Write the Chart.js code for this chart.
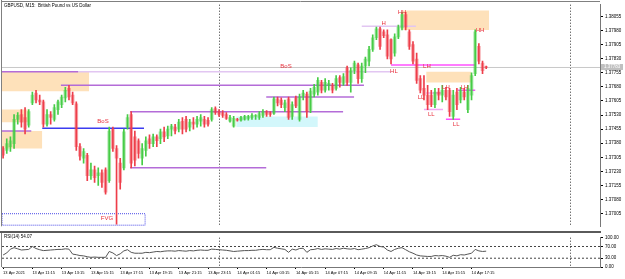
<!DOCTYPE html>
<html>
<head>
<meta charset="utf-8">
<script src="https://cdn.jsdelivr.net/npm/chart.js@4.4.1/dist/chart.umd.min.js"></script>
<style>
  html, body { margin: 0; padding: 0; background: #fff; }
  #wrap { position: relative; width: 625px; height: 279px; overflow: hidden; }
  canvas { position: absolute; left: 0; display: block; }
  #main { top: 0; }
  #rsi { top: 233px; }
  .sep { position: absolute; left: 0; top: 231px; width: 601px; height: 2px; background: #5a5a5a; }
</style>
</head>
<body>
<div id="wrap">
  <canvas id="main" width="625" height="231"></canvas>
  <div class="sep"></div>
  <canvas id="rsi" width="625" height="46"></canvas>
</div>
<script>
// GBPUSD M15, 13 Apr 09:15 .. 14 Apr 17:15
const opens = [
  1.37352,1.37342,1.37362,1.37378,1.37507,1.37533,1.37517,1.37476,1.37595,1.37647,
  1.37610,1.37600,1.37481,1.37533,1.37507,1.37559,1.37585,1.37621,1.37672,1.37636,
  1.37590,1.37362,1.37300,1.37316,1.37207,1.37238,1.37207,1.37223,1.37238,1.37181,
  1.37455,1.37352,1.37274,1.37249,1.37466,1.37533,1.37414,1.37393,1.37300,1.37342,
  1.37404,1.37378,1.37414,1.37404,1.37440,1.37419,1.37455,1.37466,1.37455,1.37497,
  1.37507,1.37466,1.37492,1.37481,1.37497,1.37507,1.37502,1.37507,1.37564,1.37548,
  1.37543,1.37533,1.37497,1.37471,1.37507,1.37502,1.37507,1.37512,1.37517,1.37523,
  1.37517,1.37528,1.37548,1.37543,1.37538,1.37616,1.37610,1.37569,1.37616,1.37523,
  1.37621,1.37507,1.37631,1.37641,1.37554,1.37641,1.37652,1.37704,1.37662,1.37688,
  1.37688,1.37672,1.37729,1.37698,1.37781,1.37704,1.37766,1.37797,1.37724,1.37791,
  1.37817,1.37879,1.37941,1.37988,1.37972,1.37957,1.37931,1.37859,1.37946,1.37993,
  1.38065,1.37972,1.37905,1.37828,1.37724,1.37672,1.37636,1.37636,1.37585,1.37652,
  1.37636,1.37662,1.37662,1.37523,1.37652,1.37610,1.37652,1.37559,1.37636,1.37750,
  1.37895,1.37807,1.37786
];
const highs = [
  1.37362,1.37404,1.37414,1.37533,1.37543,1.37559,1.37569,1.37559,1.37652,1.37662,
  1.37636,1.37610,1.37559,1.37548,1.37585,1.37610,1.37636,1.37678,1.37688,1.37652,
  1.37600,1.37378,1.37352,1.37326,1.37274,1.37259,1.37249,1.37238,1.37249,1.37466,
  1.37466,1.37367,1.37300,1.37455,1.37533,1.37548,1.37445,1.37404,1.37378,1.37414,
  1.37424,1.37429,1.37424,1.37455,1.37466,1.37471,1.37481,1.37481,1.37507,1.37517,
  1.37523,1.37507,1.37517,1.37523,1.37533,1.37523,1.37517,1.37569,1.37574,1.37559,
  1.37554,1.37543,1.37528,1.37523,1.37512,1.37523,1.37528,1.37528,1.37538,1.37533,
  1.37548,1.37559,1.37554,1.37548,1.37626,1.37626,1.37621,1.37610,1.37626,1.37600,
  1.37631,1.37641,1.37662,1.37652,1.37672,1.37693,1.37729,1.37714,1.37724,1.37714,
  1.37698,1.37740,1.37740,1.37750,1.37791,1.37781,1.37817,1.37807,1.37807,1.37838,
  1.37895,1.37957,1.37998,1.37998,1.37983,1.37983,1.37936,1.37962,1.38009,1.38076,
  1.38076,1.37983,1.37921,1.37859,1.37740,1.37740,1.37688,1.37662,1.37672,1.37672,
  1.37688,1.37678,1.37672,1.37662,1.37672,1.37678,1.37672,1.37688,1.37755,1.37983,
  1.37910,1.37817,1.37791
];
const lows = [
  1.37300,1.37326,1.37336,1.37352,1.37481,1.37466,1.37429,1.37466,1.37585,1.37595,
  1.37585,1.37466,1.37471,1.37481,1.37497,1.37533,1.37569,1.37600,1.37610,1.37585,
  1.37342,1.37290,1.37274,1.37181,1.37187,1.37171,1.37155,1.37145,1.37109,1.37171,
  1.37336,1.36949,1.37135,1.37238,1.37455,1.37249,1.37259,1.37300,1.37264,1.37311,
  1.37352,1.37362,1.37362,1.37378,1.37388,1.37404,1.37419,1.37429,1.37440,1.37429,
  1.37440,1.37445,1.37455,1.37466,1.37471,1.37466,1.37471,1.37497,1.37533,1.37523,
  1.37517,1.37507,1.37492,1.37466,1.37497,1.37497,1.37502,1.37502,1.37507,1.37507,
  1.37507,1.37517,1.37523,1.37523,1.37533,1.37579,1.37569,1.37548,1.37507,1.37507,
  1.37569,1.37497,1.37610,1.37517,1.37543,1.37626,1.37636,1.37647,1.37652,1.37662,
  1.37647,1.37662,1.37678,1.37688,1.37688,1.37652,1.37750,1.37698,1.37704,1.37755,
  1.37791,1.37869,1.37931,1.37879,1.37941,1.37828,1.37802,1.37843,1.37936,1.37983,
  1.37983,1.37879,1.37802,1.37698,1.37647,1.37610,1.37559,1.37574,1.37569,1.37610,
  1.37600,1.37610,1.37523,1.37507,1.37559,1.37595,1.37610,1.37543,1.37610,1.37740,
  1.37802,1.37750,1.37776
];
const closes = [
  1.37316,1.37378,1.37393,1.37507,1.37528,1.37492,1.37455,1.37548,1.37636,1.37610,
  1.37600,1.37481,1.37533,1.37517,1.37569,1.37600,1.37626,1.37662,1.37626,1.37595,
  1.37362,1.37311,1.37336,1.37207,1.37238,1.37197,1.37223,1.37171,1.37119,1.37445,
  1.37352,1.37300,1.37171,1.37440,1.37517,1.37274,1.37290,1.37326,1.37352,1.37393,
  1.37378,1.37414,1.37393,1.37440,1.37414,1.37455,1.37471,1.37445,1.37492,1.37455,
  1.37455,1.37492,1.37481,1.37507,1.37517,1.37481,1.37481,1.37559,1.37543,1.37533,
  1.37528,1.37512,1.37517,1.37512,1.37502,1.37517,1.37523,1.37523,1.37528,1.37523,
  1.37538,1.37548,1.37533,1.37533,1.37616,1.37595,1.37585,1.37595,1.37517,1.37585,
  1.37579,1.37626,1.37647,1.37548,1.37657,1.37678,1.37714,1.37662,1.37704,1.37698,
  1.37662,1.37724,1.37704,1.37735,1.37704,1.37766,1.37807,1.37724,1.37791,1.37828,
  1.37879,1.37941,1.37988,1.37895,1.37952,1.37843,1.37828,1.37946,1.37998,1.38065,
  1.37998,1.37895,1.37817,1.37714,1.37662,1.37636,1.37585,1.37585,1.37652,1.37636,
  1.37662,1.37626,1.37548,1.37636,1.37585,1.37662,1.37626,1.37672,1.37740,1.37972,
  1.37817,1.37766,1.37783
];
const rsi = [
  41,48,61,66,62,58,59,60,70,63,
  59,56,57,58,59,60,60,62,61,44,
  42,39,38,35,33,34,33,33,33,53,
  48,39,45,55,59,50,47,47,47,50,
  49,51,53,52,54,55,55,54,56,55,
  54,56,55,57,58,57,57,61,60,59,
  58,57,55,53,54,55,56,56,57,57,
  59,60,59,59,67,64,62,60,50,61,
  58,63,64,50,59,60,63,60,62,61,
  60,63,61,64,62,61,63,59,61,63,
  66,72,76,70,68,58,53,60,64,66,
  59,52,47,41,38,37,36,36,39,38,
  39,37,33,40,38,42,41,44,47,60,
  55,53,54.07
];

const priceTicks = [1.37005,1.37080,1.37155,1.37230,1.37305,1.37380,1.37455,1.37530,
                    1.37605,1.37680,1.37755,1.37830,1.37905,1.37980,1.38055];
const rsiTicks = [0, 30, 70, 100];
const rsiLevels = [30, 70];
const timeTicks = ['13 Apr 2021','13 Apr 11:15','13 Apr 13:15','13 Apr 15:15','13 Apr 17:15',
  '13 Apr 19:15','13 Apr 21:15','13 Apr 23:15','14 Apr 01:15','14 Apr 03:15','14 Apr 05:15',
  '14 Apr 07:15','14 Apr 09:15','14 Apr 11:15','14 Apr 13:15','14 Apr 15:15','14 Apr 17:15'];
const barsPerTick = 8;
const daySeparators = [59, 155];   // bar index of 14 Apr 00:00 and 15 Apr 00:00

// market structure levels: [fromBar, toBar, price]
const structureLevels = [[-0.3, 20.5, 1.37760], [15.8, 98.6, 1.37688], [71.9, 95.9, 1.37626],
                         [34.7, 92.9, 1.37548], [34.7, 71.9, 1.37249], [-0.3, 7.7, 1.37445]];
const fadedLevels = [[20.5, 106, 1.37760], [98, 112.8, 1.38003]];
const swingLevels = [[106, 129, 1.37796], [124.3, 129, 1.37662], [121, 124.9, 1.37507]];
const minorLevels = [[115.6, 119.7, 1.37647], [115, 120.2, 1.37559]];
const bosLevels = [[10.7, 38.5, 1.37460]];
// zones: [fromBar, toBar, low, high]
const orderBlocks = [[-0.3, 23.5, 1.37657, 1.37760], [-0.3, 6.8, 1.37492, 1.37559],
                     [-0.3, 10.7, 1.37352, 1.37445], [109.3, 132.8, 1.37983, 1.38086],
                     [115.6, 127.9, 1.37703, 1.37760]];
const demandZones = [[63.7, 86, 1.37466, 1.37522]];
const fvgBox = [-0.3, 38.8, 1.36944, 1.37005];
// text marks: [text, bar, price]
const marks = [['BoS', 77.3, 1.37791], ['BoS', 27.3, 1.37497], ['FVG', 28.4, 1.36980],
  ['H', 104, 1.38019], ['HH', 109, 1.38076], ['HH', 130.3, 1.37983], ['HL', 106.8, 1.37765],
  ['LH', 115.8, 1.37791], ['LH', 121, 1.37678], ['LH', 126, 1.37678],
  ['LL', 114.2, 1.37626], ['LL', 117, 1.37533], ['LL', 123.8, 1.37481]];

const X_MIN = -0.3, X_MAX = 163.1;
const FONT = '"Liberation Sans", Arial, sans-serif';
const GREEN = '#46cc46', RED = '#ee3e4a';
const GREEN_BODY = 'rgba(70, 204, 70, 0.45)', RED_BODY = 'rgba(238, 62, 74, 0.45)';

const idx = closes.map((c, i) => i);
const isUp = idx.map(i => closes[i] >= opens[i]);
const lastPrice = closes[closes.length - 1];

function levelSets(levels, color, width) {
  return levels.map(([a, b, p]) => ({
    type: 'line', data: [{x: a, y: p}, {x: b, y: p}],
    borderColor: color, borderWidth: width, pointRadius: 0, fill: false, order: 3
  }));
}
function zoneSets(zones, color) {
  return zones.map(([a, b, lo, hi]) => ({
    type: 'line', data: [{x: a, y: hi}, {x: b, y: hi}],
    borderColor: 'transparent', borderWidth: 1, pointRadius: 0,
    fill: {value: lo}, backgroundColor: color, order: 6
  }));
}

// dotted day separators, drawn in both panels
const separators = {
  id: 'separators',
  beforeDatasetsDraw(chart) {
    const {ctx, chartArea: a, scales: {x}} = chart;
    ctx.save();
    ctx.strokeStyle = '#333';
    ctx.lineWidth = 1;
    ctx.setLineDash([1, 2]);
    daySeparators.forEach(v => {
      const px = Math.round(x.getPixelForValue(v)) + 0.5;
      ctx.beginPath();
      ctx.moveTo(px, a.top);
      ctx.lineTo(px, a.bottom);
      ctx.stroke();
    });
    ctx.restore();
  },
  afterDraw(chart) {
    const {ctx, chartArea: a} = chart;
    ctx.save();
    ctx.strokeStyle = '#808080';
    ctx.lineWidth = 1;
    ctx.beginPath();
    ctx.moveTo(1.5, 0);
    ctx.lineTo(1.5, a.bottom);
    ctx.stroke();
    ctx.restore();
  }
};

const overlay = {
  id: 'overlay',
  afterDatasetsDraw(chart) {
    const {ctx, scales: {x, y}} = chart;
    ctx.save();
    ctx.font = '6px ' + FONT;
    ctx.fillStyle = '#e8303c';
    ctx.textAlign = 'center';
    ctx.textBaseline = 'middle';
    marks.forEach(([t, b, p]) => ctx.fillText(t, x.getPixelForValue(b), y.getPixelForValue(p)));
    ctx.restore();
  },
  afterDraw(chart) {
    const {ctx, chartArea: a, scales: {y}} = chart;
    ctx.save();
    ctx.strokeStyle = '#808080';
    ctx.beginPath();
    ctx.moveTo(1, 1.5);
    ctx.lineTo(a.right, 1.5);
    ctx.stroke();
    ctx.font = '4.5px ' + FONT;
    ctx.fillStyle = '#000';
    ctx.textBaseline = 'middle';
    ctx.fillText('GBPUSD, M15:  British Pound vs US Dollar', 4, 6);
    const py = Math.round(y.getPixelForValue(lastPrice));
    ctx.fillStyle = '#c0c0c0';
    ctx.fillRect(a.right + 1, py - 3, 22, 6);
    ctx.fillStyle = '#fff';
    ctx.fillText(lastPrice.toFixed(5), a.right + 4, py);
    ctx.restore();
  }
};

new Chart(document.getElementById('main'), {
  type: 'bar',
  data: {
    datasets: [
      {type: 'bar', data: idx.map(i => ({x: i, y: [lows[i], highs[i]]})),
       backgroundColor: isUp.map(u => u ? GREEN : RED), barThickness: 1, grouped: false, order: 0},
      {type: 'bar', data: idx.map(i => ({x: i, y: [opens[i], closes[i]]})),
       backgroundColor: isUp.map(u => u ? GREEN_BODY : RED_BODY), barThickness: 3, minBarLength: 1,
       grouped: false, order: 1},
      ...levelSets(structureLevels, '#b46cd8', 1.5),
      ...levelSets(fadedLevels, '#e2c6f2', 1.5),
      ...levelSets(swingLevels, '#ff50ff', 1.5),
      ...levelSets(minorLevels, '#f4a8f4', 1.5),
      ...levelSets(bosLevels, '#3c3cf0', 1.5),
      {type: 'line', data: [{x: X_MIN, y: lastPrice}, {x: X_MAX, y: lastPrice}],
       borderColor: '#c8c8c8', borderWidth: 1, pointRadius: 0, fill: false, order: 5},
      {type: 'line',
       data: [{x: fvgBox[0], y: fvgBox[3]}, {x: fvgBox[1], y: fvgBox[3]}, {x: fvgBox[1], y: fvgBox[2]},
              {x: fvgBox[0], y: fvgBox[2]}, {x: fvgBox[0], y: fvgBox[3]}],
       borderColor: '#4a4ae8', borderWidth: 1, borderDash: [1, 1], pointRadius: 0, fill: false, order: 3},
      ...zoneSets(orderBlocks, 'rgba(253, 200, 130, 0.55)'),
      ...zoneSets(demandZones, 'rgba(200, 245, 250, 0.8)')
    ]
  },
  options: {
    responsive: false,
    animation: false,
    layout: {padding: {left: 2, top: 2, right: 0, bottom: 1}},
    plugins: {legend: {display: false}, tooltip: {enabled: false}},
    scales: {
      x: {type: 'linear', min: X_MIN, max: X_MAX, offset: false, display: false},
      y: {
        position: 'right', min: 1.36938, max: 1.38117, beginAtZero: false,
        afterBuildTicks: s => { s.ticks = priceTicks.map(v => ({value: v})); },
        afterFit: s => { s.width = 25; },
        ticks: {autoSkip: false, padding: 2, color: '#000', font: {size: 4.5, family: FONT},
                callback: v => v.toFixed(5)},
        grid: {drawOnChartArea: false, drawTicks: true, tickLength: 3, color: '#000'},
        border: {display: true, color: '#777'}
      }
    }
  },
  plugins: [separators, overlay]
});

const rsiLabel = {
  id: 'rsiLabel',
  afterDraw(chart) {
    const {ctx} = chart;
    ctx.save();
    ctx.font = '4.5px ' + FONT;
    ctx.fillStyle = '#000';
    ctx.textBaseline = 'middle';
    ctx.fillText('RSI(14) ' + rsi[rsi.length - 1].toFixed(2), 4, 4);
    ctx.restore();
  }
};

new Chart(document.getElementById('rsi'), {
  type: 'line',
  data: {
    datasets: [
      {data: idx.map(i => ({x: i, y: rsi[i]})), borderColor: '#555', borderWidth: 1,
       pointRadius: 0, fill: false, order: 1},
      ...rsiLevels.map(v => ({data: [{x: X_MIN, y: v}, {x: X_MAX, y: v}], borderColor: '#444',
       borderWidth: 1, borderDash: [2, 2], pointRadius: 0, fill: false, order: 2}))
    ]
  },
  options: {
    responsive: false,
    animation: false,
    layout: {padding: {left: 2, top: 1, right: 0, bottom: 0}},
    plugins: {legend: {display: false}, tooltip: {enabled: false}},
    scales: {
      x: {
        type: 'linear', min: X_MIN, max: X_MAX, offset: false,
        afterBuildTicks: s => { s.ticks = timeTicks.map((t, k) => ({value: k * barsPerTick})); },
        afterFit: s => { s.height = 12; },
        ticks: {autoSkip: false, maxRotation: 0, align: 'start', padding: 1, color: '#000',
                font: {size: 4, family: FONT}, callback: (v, k) => timeTicks[k]},
        grid: {drawOnChartArea: false, drawTicks: true, tickLength: 2, color: '#000'},
        border: {display: true, color: '#777'}
      },
      y: {
        position: 'right', min: 0, max: 100,
        afterBuildTicks: s => { s.ticks = rsiTicks.map(v => ({value: v})); },
        afterFit: s => { s.width = 25; },
        ticks: {autoSkip: false, padding: 2, color: '#000', font: {size: 4.5, family: FONT},
                callback: v => v.toFixed(2)},
        grid: {drawOnChartArea: false, drawTicks: true, tickLength: 3, color: '#000'},
        border: {display: true, color: '#777'}
      }
    }
  },
  plugins: [separators, rsiLabel]
});
</script>
</body>
</html>
